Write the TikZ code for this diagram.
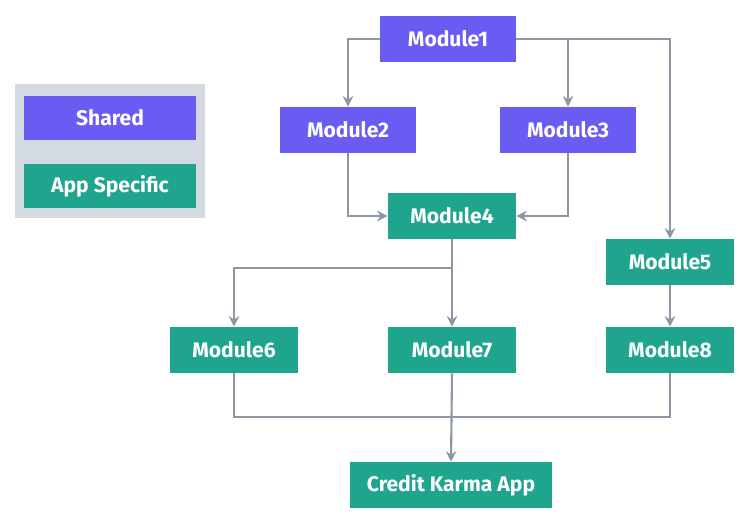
\documentclass[tikz,border=0pt]{standalone}
\usepackage{fontspec}
\setmainfont{Fira Sans}
\definecolor{shared}{HTML}{6A5CF2}
\definecolor{appspec}{HTML}{1FA58E}
\definecolor{legendbg}{HTML}{D3DAE2}
\definecolor{wire}{HTML}{8C97A3}
\usetikzlibrary{arrows.meta}
\begin{document}
\begin{tikzpicture}[x=0.02cm,y=-0.02cm,
    box/.style={minimum width=2.72cm, minimum height=0.92cm, inner sep=0pt, text=white, font=\bfseries\large},
    sh/.style={box, fill=shared},
    as/.style={box, fill=appspec},
    link/.style={draw=wire, line width=1.2pt, -{Stealth[length=6pt,width=6pt]}},
    plain/.style={draw=wire, line width=1.2pt}]
    \useasboundingbox (0,0) rectangle (750,524);

    % legend
    \node (legend) at (110,151) [fill=legendbg, minimum width=3.8cm, minimum height=2.68cm] {};
    \node (lshared) at (110,118) [sh, minimum width=3.44cm, minimum height=0.88cm] {Shared};
    \node (lapp) at (110,186) [as, minimum width=3.44cm, minimum height=0.88cm] {App Specific};

    % modules
    \node (m1) at (448,39)  [sh] {Module1};
    \node (m2) at (348,130) [sh] {Module2};
    \node (m3) at (568,130) [sh] {Module3};
    \node (m4) at (452,216) [as, minimum width=2.56cm] {Module4};
    \node (m5) at (670,262) [as, minimum width=2.58cm] {Module5};
    \node (m6) at (234,350) [as, minimum width=2.56cm] {Module6};
    \node (m7) at (452,350) [as, minimum width=2.56cm] {Module7};
    \node (m8) at (670,350) [as, minimum width=2.58cm] {Module8};
    \node (app) at (451,485) [as, minimum width=4.04cm] {Credit Karma App};

    % connectors
    \draw[link] (m1.west) -| (m2.north);
    \draw[link] (m1.east) -| (m3.north);
    \draw[link] (m1.east) -| (m5.north);
    \draw[link] (m2.south) |- (m4.west);
    \draw[link] (m3.south) |- (m4.east);
    \draw[link] (m4.south) -- ++(0,29) -| (m6.north);
    \draw[link] (m4.south) -- (m7.north);
    \draw[link] (m5.south) -- (m8.north);
    \draw[plain] (m6.south) -- ++(0,44) -| (m8.south);
    \draw[link] (m7.south) -- (app.north);
\end{tikzpicture}
\end{document}
